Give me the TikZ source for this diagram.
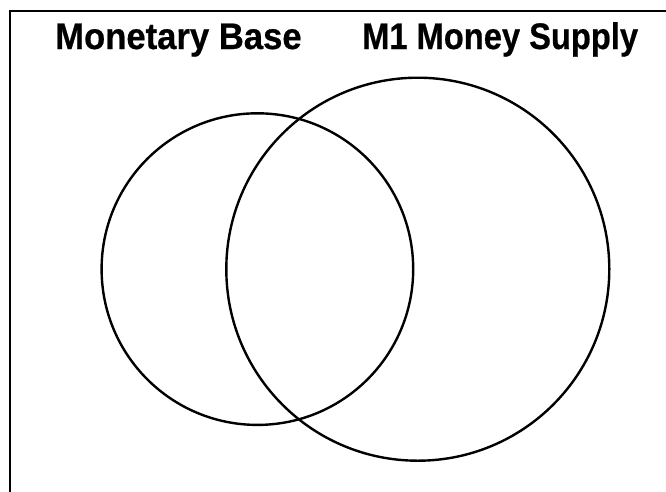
\documentclass[tikz,border=0pt]{standalone}
\usepackage{fontspec}
\setmainfont{Liberation Sans}
\newfontfamily\heavyfont[FakeBold=0.6]{Liberation Sans Bold}
\begin{document}
\begin{tikzpicture}[x=1pt,y=-1pt,
  venn/.style={draw=black,line width=2.4pt},
  framel/.style={draw=black,line width=2pt},
  title/.style={font=\heavyfont\fontsize{33}{40}\selectfont,anchor=base west,inner sep=0pt}]
\useasboundingbox (0,0) rectangle (666,491);
\coordinate (fTR) at (667,11);
\coordinate (fTL) at (10,11);
\coordinate (fBL) at (10,492);
\draw[framel] (fTR) -- (fTL) -- (fBL);
\node[title] (mb) at (55,49) {\scalebox{1.05}[1.12]{Monetary Base}};
\node[title] (m1) at (362,49) {\scalebox{0.99}[1.12]{M1 Money Supply}};
\node[venn,circle,minimum size=311.6pt,inner sep=0pt] (base) at (257.4,269.1) {};
\node[venn,circle,minimum size=383pt,inner sep=0pt] (supply) at (417.8,269.2) {};
\end{tikzpicture}
\end{document}
